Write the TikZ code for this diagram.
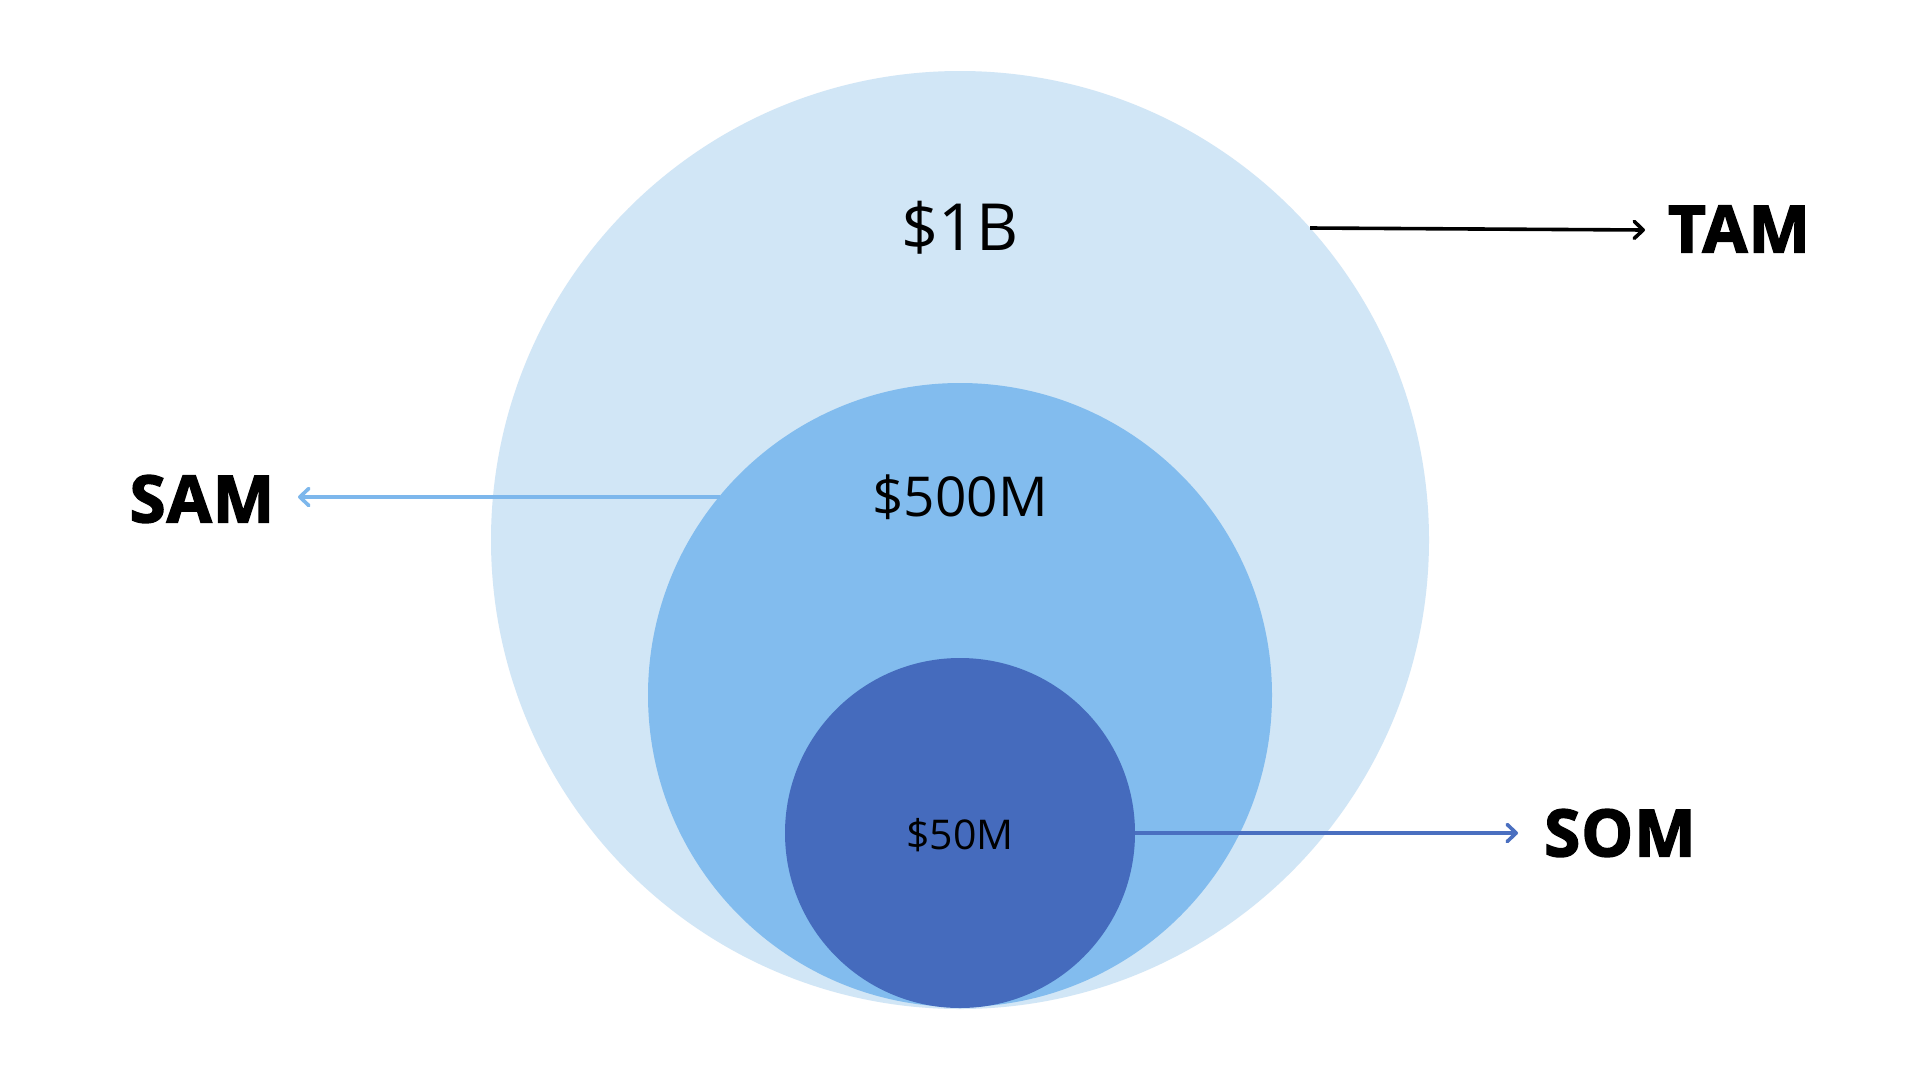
\documentclass[tikz,border=0pt]{standalone}
\usepackage{fontspec}
\setmainfont{Open Sans}
\newfontfamily\heavyfont{Open Sans}[BoldFeatures={FakeBold=2.5}, LetterSpace=2]
\usetikzlibrary{arrows.meta}
\definecolor{tamfill}{HTML}{D1E6F6}
\definecolor{samfill}{HTML}{82BCEE}
\definecolor{somfill}{HTML}{456BBD}
\definecolor{samline}{HTML}{7DB7EC}
\definecolor{somline}{HTML}{4A6FC0}
\tikzset{
  ring/.style={circle, draw=none, inner sep=0pt},
  value/.style={font=\fontsize{#1}{#1}\selectfont, text=black, inner sep=0pt, anchor=center},
  tag/.style={font=\heavyfont\fontsize{65}{65}\selectfont\bfseries, text=black, inner sep=0pt},
  pointer/.style={line width=3.6pt, -{Straight Barb[length=9pt,width=17pt,line cap=round,line join=round]}}
}
\begin{document}
\begin{tikzpicture}[x=1pt,y=-1pt]
\useasboundingbox[fill=white] (0,0) rectangle (1920,1080);
\node[ring, fill=tamfill, minimum size=938pt] (tam) at (960,540) {};
\node[ring, fill=samfill, minimum size=624pt] (sam) at (960,695) {};
\node[ring, fill=somfill, minimum size=350pt] (som) at (960,833) {};
\node[value=65] (v1) at (960,228) {\$1B};
\node[value=55] (v2) at (960,497) {\$500M};
\node[value=41] (v3) at (960,835) {\$50M};
\node[tag, anchor=center] (ltam) at (1739,229) {TAM};
\node[tag, anchor=center] (lsam) at (202,499) {SAM};
\node[tag, anchor=center] (lsom) at (1620,833) {SOM};
\coordinate (tamstart) at (1310,228);
\coordinate (tamend) at (1645,230);
\coordinate (samstart) at (720,497);
\coordinate (samend) at (298,497);
\coordinate (somstart) at (1135,833);
\coordinate (somend) at (1518,833);
\draw[pointer, draw=black] (tamstart) -- (tamend);
\draw[pointer, draw=samline] (samstart) -- (samend);
\draw[pointer, draw=somline] (somstart) -- (somend);
\end{tikzpicture}
\end{document}
